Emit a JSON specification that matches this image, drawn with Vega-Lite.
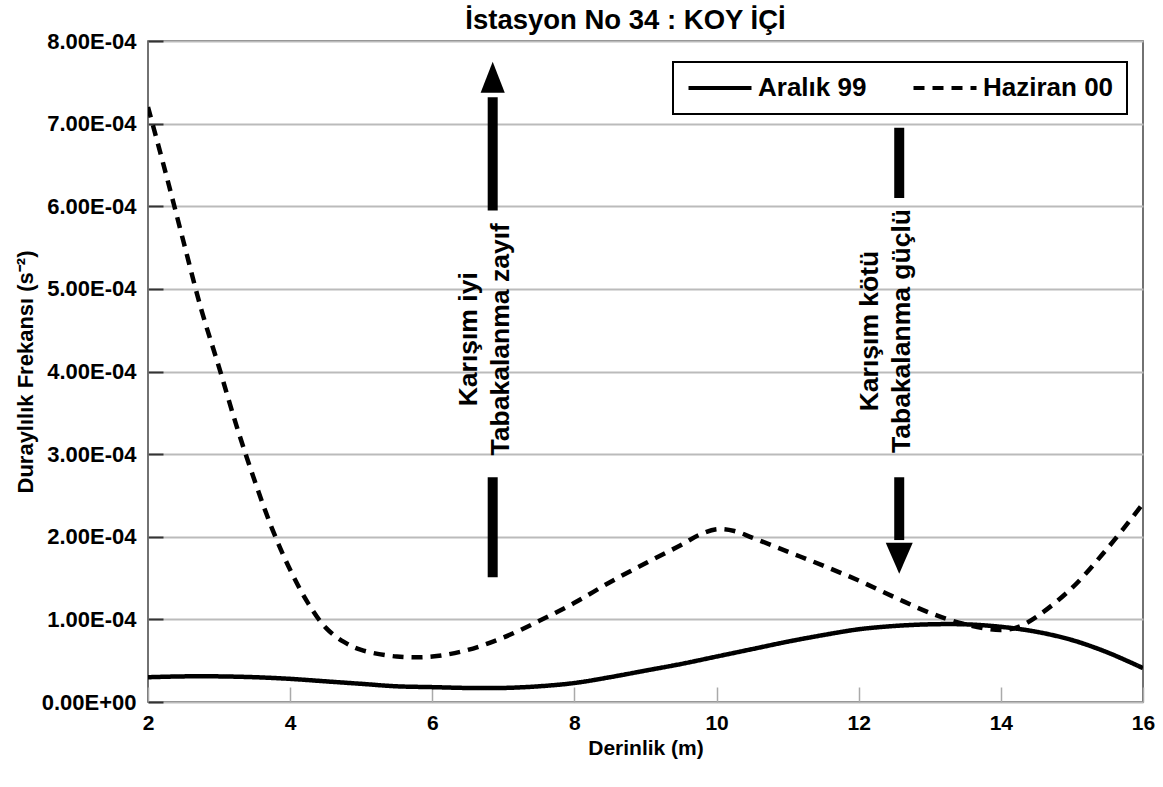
{
  "$schema": "https://vega.github.io/schema/vega-lite/v6.json",
  "width": 995,
  "height": 661,
  "autosize": {"type": "none"},
  "padding": {"left": 148, "top": 41, "right": 20, "bottom": 85},
  "background": "white",
  "title": {"text": "İstasyon No 34 : KOY İÇİ", "font": "Liberation Sans", "fontSize": 27.5, "fontWeight": "bold", "color": "black", "anchor": "middle", "dx": -20, "offset": -4},
  "config": {"view": {"stroke": "#444", "strokeWidth": 1.5}, "font": "Liberation Sans"},
  "datasets": {
    "seriler": [
      {"seri": "Haziran 00", "derinlik": 2, "frekans": 0.000720},
      {"seri": "Haziran 00", "derinlik": 2.25, "frekans": 0.000640},
      {"seri": "Haziran 00", "derinlik": 2.5, "frekans": 0.000557},
      {"seri": "Haziran 00", "derinlik": 2.75, "frekans": 0.000475},
      {"seri": "Haziran 00", "derinlik": 3, "frekans": 0.000405},
      {"seri": "Haziran 00", "derinlik": 3.25, "frekans": 0.000333},
      {"seri": "Haziran 00", "derinlik": 3.5, "frekans": 0.000268},
      {"seri": "Haziran 00", "derinlik": 3.75, "frekans": 0.000209},
      {"seri": "Haziran 00", "derinlik": 4, "frekans": 0.000160},
      {"seri": "Haziran 00", "derinlik": 4.25, "frekans": 0.000120},
      {"seri": "Haziran 00", "derinlik": 4.5, "frekans": 0.000090},
      {"seri": "Haziran 00", "derinlik": 4.75, "frekans": 0.000073},
      {"seri": "Haziran 00", "derinlik": 5, "frekans": 0.000063},
      {"seri": "Haziran 00", "derinlik": 5.5, "frekans": 0.000055},
      {"seri": "Haziran 00", "derinlik": 6, "frekans": 0.000055},
      {"seri": "Haziran 00", "derinlik": 6.5, "frekans": 0.000063},
      {"seri": "Haziran 00", "derinlik": 7, "frekans": 0.000078},
      {"seri": "Haziran 00", "derinlik": 7.5, "frekans": 0.000098},
      {"seri": "Haziran 00", "derinlik": 8, "frekans": 0.000120},
      {"seri": "Haziran 00", "derinlik": 8.5, "frekans": 0.000145},
      {"seri": "Haziran 00", "derinlik": 9, "frekans": 0.000168},
      {"seri": "Haziran 00", "derinlik": 9.5, "frekans": 0.000190},
      {"seri": "Haziran 00", "derinlik": 9.75, "frekans": 0.000202},
      {"seri": "Haziran 00", "derinlik": 10, "frekans": 0.000209},
      {"seri": "Haziran 00", "derinlik": 10.25, "frekans": 0.000207},
      {"seri": "Haziran 00", "derinlik": 10.5, "frekans": 0.000199},
      {"seri": "Haziran 00", "derinlik": 11, "frekans": 0.000182},
      {"seri": "Haziran 00", "derinlik": 11.5, "frekans": 0.000165},
      {"seri": "Haziran 00", "derinlik": 12, "frekans": 0.000147},
      {"seri": "Haziran 00", "derinlik": 12.5, "frekans": 0.000127},
      {"seri": "Haziran 00", "derinlik": 13, "frekans": 0.000108},
      {"seri": "Haziran 00", "derinlik": 13.5, "frekans": 0.000094},
      {"seri": "Haziran 00", "derinlik": 14, "frekans": 0.000087},
      {"seri": "Haziran 00", "derinlik": 14.25, "frekans": 0.000091},
      {"seri": "Haziran 00", "derinlik": 14.5, "frekans": 0.000103},
      {"seri": "Haziran 00", "derinlik": 15, "frekans": 0.000138},
      {"seri": "Haziran 00", "derinlik": 15.5, "frekans": 0.000186},
      {"seri": "Haziran 00", "derinlik": 16, "frekans": 0.000240},
      {"seri": "Aralık 99", "derinlik": 2, "frekans": 0.000030},
      {"seri": "Aralık 99", "derinlik": 2.5, "frekans": 0.000031},
      {"seri": "Aralık 99", "derinlik": 3, "frekans": 0.000031},
      {"seri": "Aralık 99", "derinlik": 3.5, "frekans": 0.000030},
      {"seri": "Aralık 99", "derinlik": 4, "frekans": 0.000028},
      {"seri": "Aralık 99", "derinlik": 4.5, "frekans": 0.000025},
      {"seri": "Aralık 99", "derinlik": 5, "frekans": 0.000022},
      {"seri": "Aralık 99", "derinlik": 5.5, "frekans": 0.000019},
      {"seri": "Aralık 99", "derinlik": 6, "frekans": 0.000018},
      {"seri": "Aralık 99", "derinlik": 6.5, "frekans": 0.000017},
      {"seri": "Aralık 99", "derinlik": 7, "frekans": 0.000017},
      {"seri": "Aralık 99", "derinlik": 7.5, "frekans": 0.000019},
      {"seri": "Aralık 99", "derinlik": 8, "frekans": 0.000023},
      {"seri": "Aralık 99", "derinlik": 8.5, "frekans": 0.000030},
      {"seri": "Aralık 99", "derinlik": 9, "frekans": 0.000038},
      {"seri": "Aralık 99", "derinlik": 9.5, "frekans": 0.000046},
      {"seri": "Aralık 99", "derinlik": 10, "frekans": 0.000055},
      {"seri": "Aralık 99", "derinlik": 10.5, "frekans": 0.000064},
      {"seri": "Aralık 99", "derinlik": 11, "frekans": 0.000073},
      {"seri": "Aralık 99", "derinlik": 11.5, "frekans": 0.000081},
      {"seri": "Aralık 99", "derinlik": 12, "frekans": 0.000088},
      {"seri": "Aralık 99", "derinlik": 12.5, "frekans": 0.000092},
      {"seri": "Aralık 99", "derinlik": 13, "frekans": 0.000094},
      {"seri": "Aralık 99", "derinlik": 13.5, "frekans": 0.000094},
      {"seri": "Aralık 99", "derinlik": 14, "frekans": 0.000091},
      {"seri": "Aralık 99", "derinlik": 14.5, "frekans": 0.000085},
      {"seri": "Aralık 99", "derinlik": 15, "frekans": 0.000075},
      {"seri": "Aralık 99", "derinlik": 15.5, "frekans": 0.000060},
      {"seri": "Aralık 99", "derinlik": 16, "frekans": 0.000041}
    ],
    "oklar": [
      {"derinlik": 6.85, "alt": 0.000595, "ust": 0.000732},
      {"derinlik": 6.85, "alt": 0.000151, "ust": 0.000272},
      {"derinlik": 12.57, "alt": 0.000610, "ust": 0.000695},
      {"derinlik": 12.57, "alt": 0.000196, "ust": 0.000272}
    ],
    "yukari": [{"derinlik": 6.85, "frekans": 0.000756}],
    "asagi": [{"derinlik": 12.57, "frekans": 0.000174}],
    "notlar": [
      {"derinlik": 6.52, "frekans": 0.000439, "metin": "Karışım iyi\nTabakalanma zayıf"},
      {"derinlik": 12.16, "frekans": 0.000449, "metin": "Karışım kötü\nTabakalanma güçlü"}
    ]
  },
  "layer": [
    {
      "data": {"name": "seriler"},
      "mark": {"type": "line", "interpolate": "catmull-rom", "strokeWidth": 4.5, "color": "black", "clip": true},
      "encoding": {
        "x": {
          "field": "derinlik", "type": "quantitative",
          "scale": {"domain": [2, 16], "nice": false, "zero": false},
          "axis": {
            "title": "Derinlik (m)", "titleFont": "Liberation Sans", "titleFontSize": 21, "titleFontWeight": "bold", "titleColor": "black", "titlePadding": 4,
            "values": [2, 4, 6, 8, 10, 12, 14, 16], "format": "d", "labelFont": "Liberation Sans", "labelFontSize": 21, "labelFontWeight": "bold", "labelColor": "black", "labelFlush": false,
            "grid": false, "domain": false, "tickSize": -15, "tickColor": "#aaa", "tickWidth": 1.5, "labelPadding": 25
          }
        },
        "y": {
          "field": "frekans", "type": "quantitative",
          "scale": {"domain": [0, 0.0008], "nice": false},
          "axis": {
            "title": "Duraylılık Frekansı (s⁻²)", "titleFont": "Liberation Sans", "titleFontSize": 22, "titleFontWeight": "bold", "titleColor": "black", "titlePadding": 4,
            "values": [0, 0.0001, 0.0002, 0.0003, 0.0004, 0.0005, 0.0006, 0.0007, 0.0008],
            "labelExpr": "datum.value == 0 ? '0.00E+00' : replace(upper(format(datum.value, '.2e')), 'E-', 'E-0')",
            "labelFont": "Liberation Sans", "labelFontSize": 22, "labelFontWeight": "bold", "labelColor": "black",
            "grid": true, "gridColor": "#bbb", "gridWidth": 2, "domain": false, "tickSize": -15, "tickColor": "#333", "tickWidth": 2, "labelPadding": 27
          }
        },
        "strokeDash": {
          "field": "seri", "type": "nominal",
          "scale": {"domain": ["Aralık 99", "Haziran 00"], "range": [[1, 0], [11, 8]]},
          "legend": {
            "title": null, "orient": "none", "legendX": 525, "legendY": 21, "direction": "horizontal",
            "symbolType": "M-3,0L3,0", "symbolSize": 441, "symbolOffset": 21, "symbolStrokeWidth": 4, "symbolStrokeColor": "black",
            "labelFont": "Liberation Sans", "labelFontSize": 26, "labelFontWeight": "bold", "labelColor": "black", "labelLimit": 300,
            "labelOffset": 25, "columnPadding": 38, "padding": 13, "strokeColor": "black", "fillColor": "white",
            "encode": {"legend": {"update": {"strokeWidth": {"value": 2}}}}
          }
        }
      }
    },
    {
      "data": {"name": "oklar"},
      "mark": {"type": "rule", "strokeWidth": 10, "color": "black", "strokeCap": "butt"},
      "encoding": {
        "x": {"field": "derinlik", "type": "quantitative"},
        "y": {"field": "alt", "type": "quantitative"},
        "y2": {"field": "ust"}
      }
    },
    {
      "data": {"name": "yukari"},
      "mark": {"type": "point", "shape": "M0,-1L0.78,1L-0.78,1Z", "size": 961, "filled": true, "color": "black", "opacity": 1, "strokeWidth": 0},
      "encoding": {
        "x": {"field": "derinlik", "type": "quantitative"},
        "y": {"field": "frekans", "type": "quantitative"}
      }
    },
    {
      "data": {"name": "asagi"},
      "mark": {"type": "point", "shape": "M0,1L0.87,-1L-0.87,-1Z", "size": 961, "filled": true, "color": "black", "opacity": 1, "strokeWidth": 0},
      "encoding": {
        "x": {"field": "derinlik", "type": "quantitative"},
        "y": {"field": "frekans", "type": "quantitative"}
      }
    },
    {
      "data": {"name": "notlar"},
      "mark": {"type": "text", "angle": 270, "align": "center", "baseline": "middle", "lineBreak": "\n", "lineHeight": 32, "font": "Liberation Sans", "fontSize": 26.5, "fontWeight": "bold", "color": "black"},
      "encoding": {
        "x": {"field": "derinlik", "type": "quantitative"},
        "y": {"field": "frekans", "type": "quantitative"},
        "text": {"field": "metin"}
      }
    }
  ]
}
